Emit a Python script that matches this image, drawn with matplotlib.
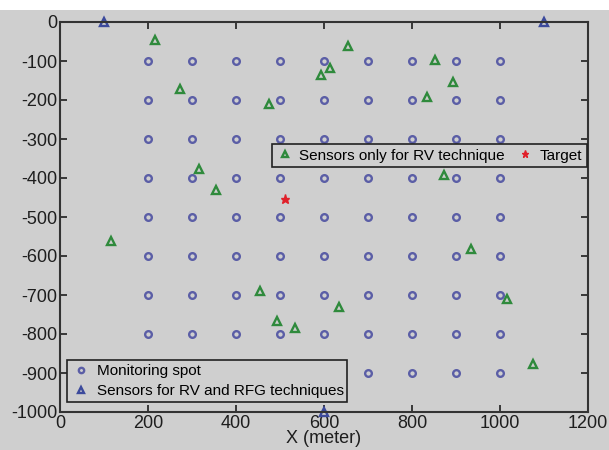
import numpy as np
import matplotlib.pyplot as plt
from matplotlib.patches import Rectangle

plt.rcParams['font.family'] = ['Liberation Sans', 'DejaVu Sans']
plt.rcParams['axes.unicode_minus'] = False

# Monitoring grid (x, y) in meters
spot_x = [200, 300, 400, 500, 600, 700, 800, 900, 1000]
spot_y = [-100, -200, -300, -400, -500, -600, -700, -800, -900]

# Sensors usable for both RV and RFG techniques
rfg_x = [100, 1100, 600]
rfg_y = [0, 0, -1000]

# Sensors only for RV technique
rv_x = [215, 273, 474, 315, 355, 655, 614, 593, 852, 893,
        833, 873, 115, 455, 494, 534, 934, 635, 1015, 1074]
rv_y = [-45, -173, -210, -377, -432, -62, -118, -137, -98, -153,
        -192, -393, -562, -690, -766, -784, -581, -730, -711, -877]

target_x = [512]
target_y = [-455]

bg = '#cfcfcf'
gx, gy = np.meshgrid(spot_x, spot_y)

fig = plt.figure(figsize=(6.09, 4.5), dpi=100, facecolor=bg)
# white strip along the top edge
fig.patches.append(Rectangle((0, 1 - 10 / 450), 1, 10 / 450, transform=fig.transFigure,
                             facecolor='white', edgecolor='none', zorder=-1))
ax = fig.add_axes([60 / 609, 1 - 412 / 450, 528 / 609, 390 / 450])
ax.set_facecolor(bg)

h_spot, = ax.plot(gx.ravel(), gy.ravel(), 'o', ms=4.8, mfc='none', mec='#5b5ea6',
                  mew=1.7, linestyle='none', label='Monitoring spot')
h_rfg, = ax.plot(rfg_x, rfg_y, '^', ms=5.5, mfc='none', mec='#3c4a9c', mew=1.7,
                 linestyle='none', clip_on=False, label='Sensors for RV and RFG techniques')
h_rv, = ax.plot(rv_x, rv_y, '^', ms=5.5, mfc='none', mec='#2f8a3c', mew=1.7,
                linestyle='none', label='Sensors only for RV technique')
h_tg, = ax.plot(target_x, target_y, '*', ms=6.5, color='#e0202a', linestyle='none',
                label='Target')

ax.set_xlim(0, 1200)
ax.set_ylim(-1000, 0)
ax.set_xticks(np.arange(0, 1201, 200))
ax.set_yticks(np.arange(-1000, 1, 100))
ax.tick_params(direction='in', top=True, right=True, length=5, width=1.2,
               labelsize=13, colors='#1e1e1e', pad=2)
for s in ax.spines.values():
    s.set_linewidth(1.5)
    s.set_color('#333333')
ax.set_xlabel('X (meter)', fontsize=13, color='#1e1e1e', labelpad=-1)

leg1 = ax.legend(handles=[h_spot, h_rfg], loc='lower left', bbox_to_anchor=(0.013, 0.026),
                 fontsize=11, frameon=True, fancybox=False, facecolor=bg, edgecolor='#222222',
                 framealpha=1, borderpad=0.25, handletextpad=0.4, labelspacing=0.4,
                 handlelength=1.3, borderaxespad=0, markerscale=0.8)
leg1.get_frame().set_linewidth(1.2)
ax.add_artist(leg1)
leg2 = ax.legend(handles=[h_rv, h_tg], loc='upper right', bbox_to_anchor=(0.998, 0.687),
                 ncol=2, fontsize=11, frameon=True, fancybox=False, facecolor=bg,
                 edgecolor='#222222', framealpha=1, borderpad=0.3, handletextpad=0.4,
                 columnspacing=0.8, handlelength=1.1, borderaxespad=0, markerscale=0.8)
leg2.get_frame().set_linewidth(1.2)

fig.savefig('out.png', dpi=100, facecolor=bg)
